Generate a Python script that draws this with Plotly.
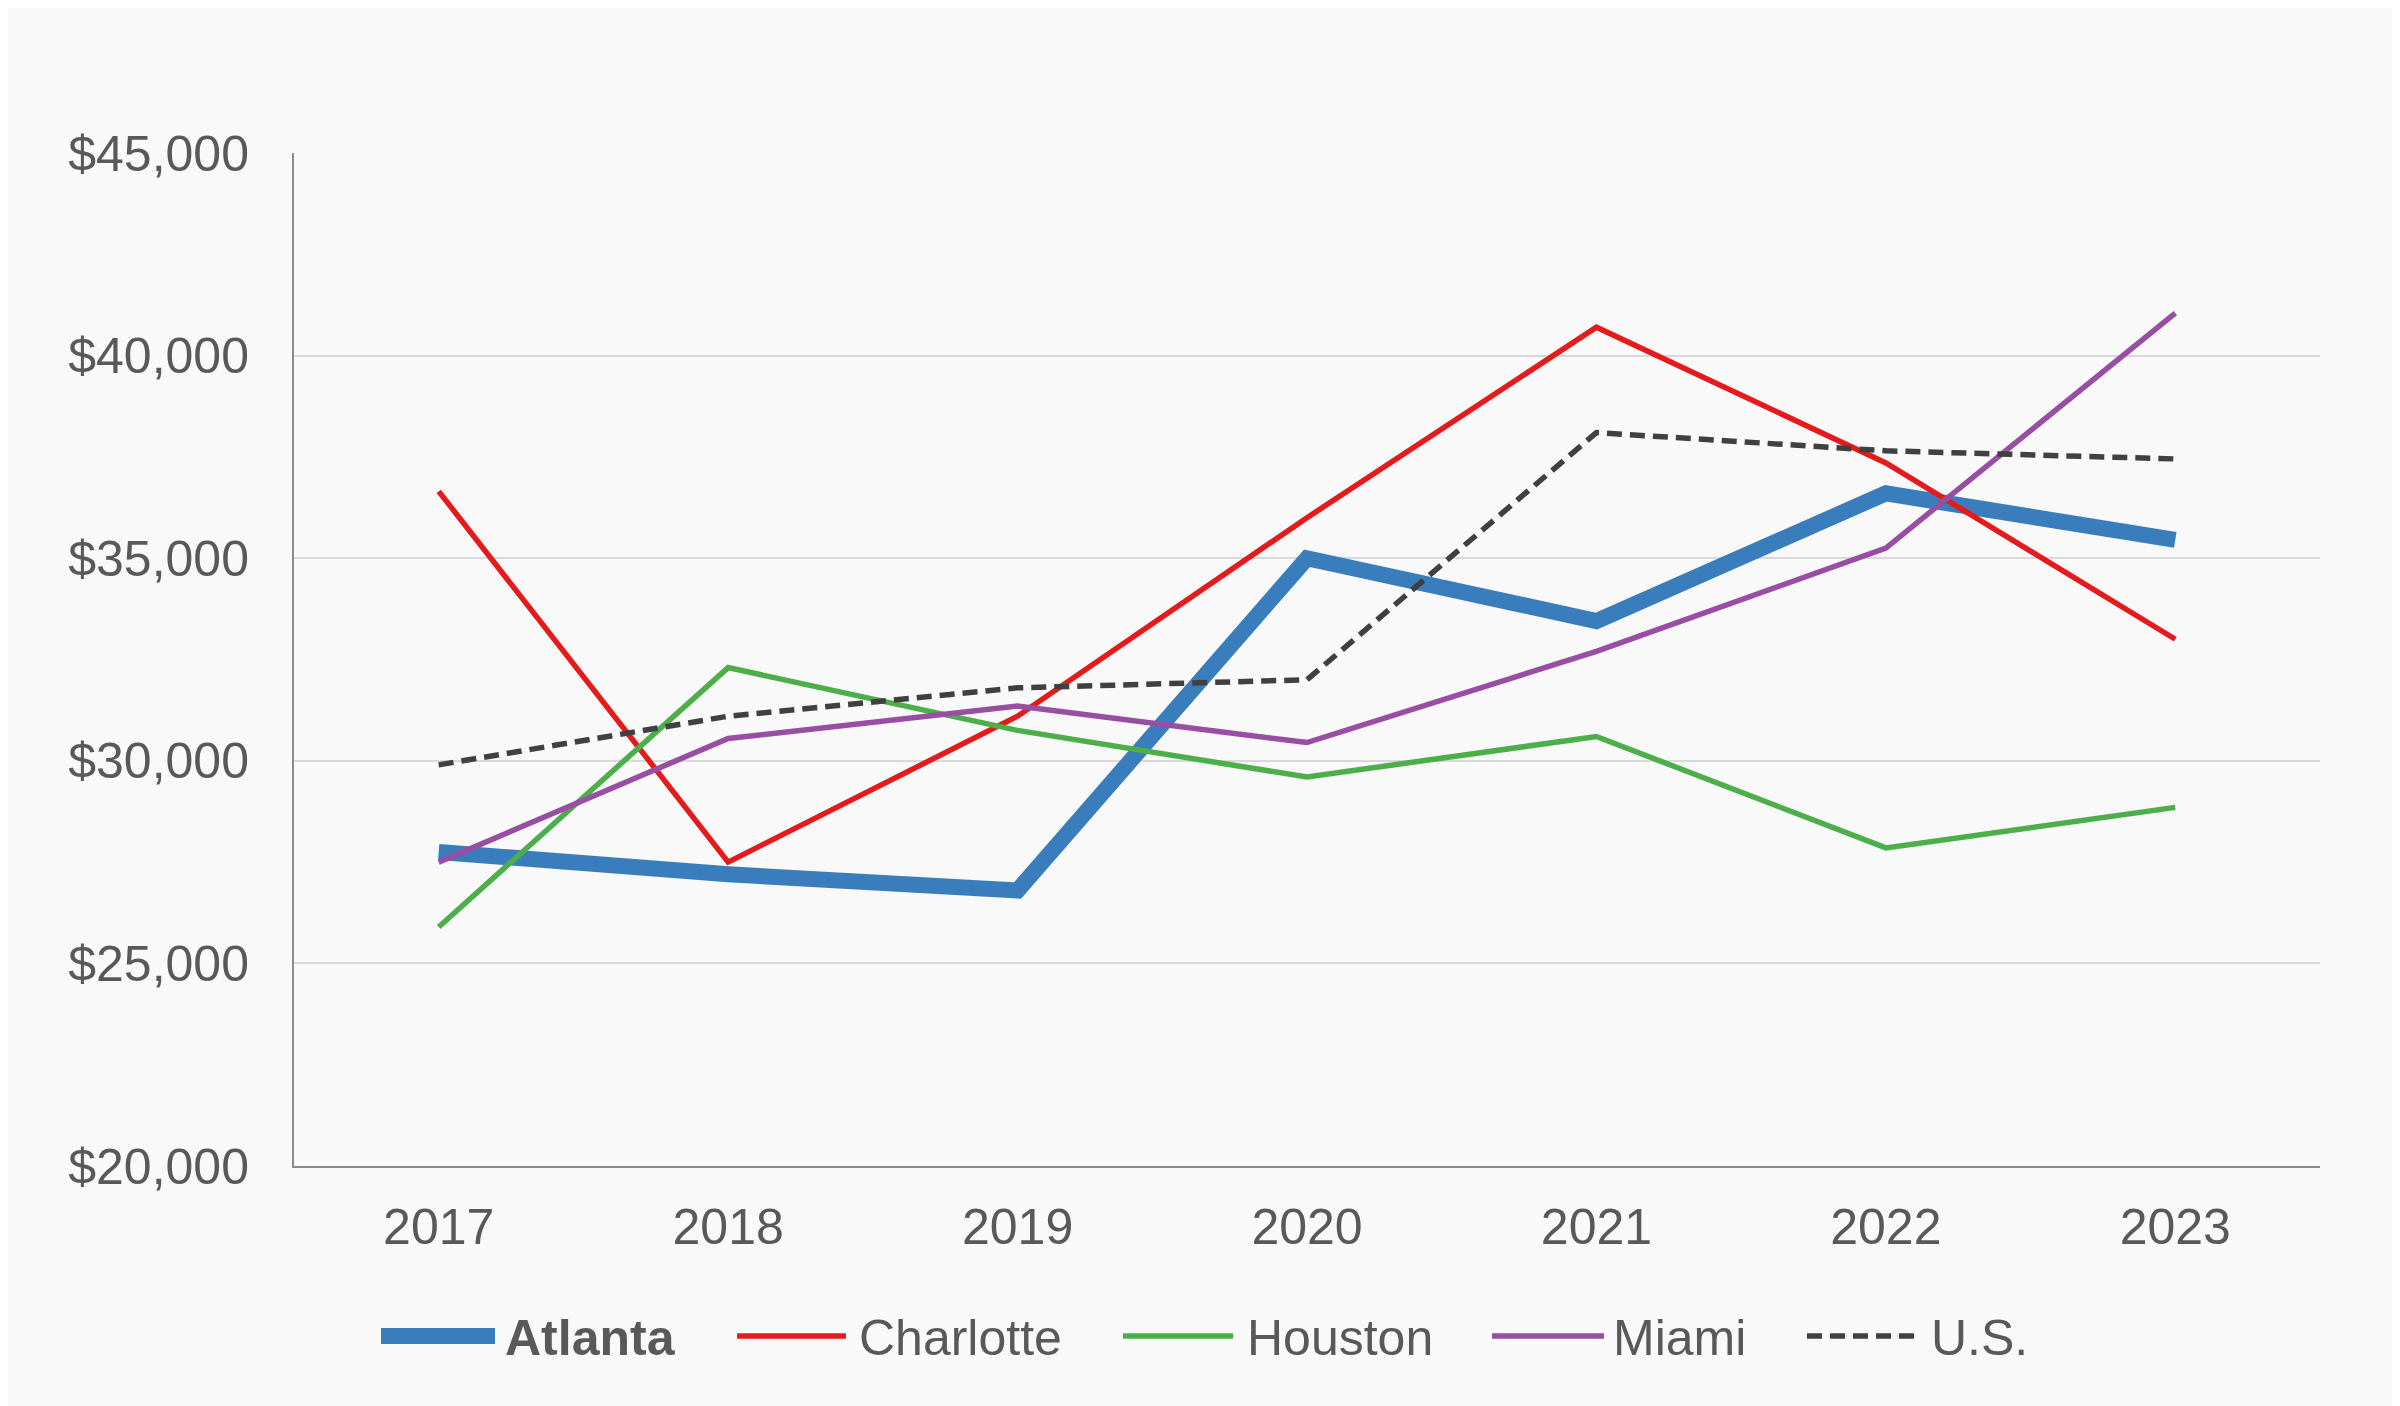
import plotly.graph_objects as go

years = ["2017", "2018", "2019", "2020", "2021", "2022", "2023"]
atlanta = [27750, 27200, 26800, 35000, 33450, 36600, 35450]
charlotte = [36650, 27500, 31100, 36000, 40700, 37350, 33000]
houston = [25900, 32300, 30750, 29600, 30600, 27850, 28850]
miami = [27500, 30550, 31350, 30450, 32700, 35250, 41050]
us = [29900, 31100, 31800, 32000, 38100, 37650, 37450]

y_ticks = [20000, 25000, 30000, 35000, 40000, 45000]
y_tick_labels = ["$20,000", "$25,000", "$30,000", "$35,000", "$40,000", "$45,000"]

series = [
    ("<b>Atlanta</b>", atlanta, "#3a7dbd", 16, "solid"),
    ("Charlotte", charlotte, "#e41a1c", 5.5, "solid"),
    ("Houston", houston, "#4daf4a", 5.5, "solid"),
    ("Miami", miami, "#984ea3", 5.5, "solid"),
    ("U.S.", us, "#404040", 5.5, "15px,8px"),
]

W, H = 2400, 1406
L, R, T, B = 286, 88, 145, 248
OFF = 8  # page body offset in screenshot
PW, PH = W - L - R, H - T - B

def px_x(px):
    return (px - OFF - L) / PW

def px_y(py):
    return (H - B - (py - OFF)) / PH

# legend layout (screenshot pixels)
leg_y = 1336
leg_sym = [(381, 495), (737, 846), (1123, 1233), (1492, 1604), (1807, 1921)]
leg_txt = [504, 858, 1246, 1612, 1930]

fig = go.Figure()
for name, vals, color, width, dash in series:
    fig.add_trace(go.Scatter(x=years, y=vals, name=name, mode="lines",
                             line=dict(color=color, width=width, dash=dash),
                             showlegend=False))

font = "Liberation Sans, Arial, sans-serif"
shapes, annots = [], []
for (name, vals, color, width, dash), (s0, s1), tx in zip(series, leg_sym, leg_txt):
    shapes.append(dict(type="line", xref="paper", yref="paper",
                       x0=px_x(s0), x1=px_x(s1), y0=px_y(leg_y), y1=px_y(leg_y),
                       line=dict(color=color, width=width, dash=dash)))
    annots.append(dict(text=name, xref="paper", yref="paper", x=px_x(tx), y=px_y(leg_y + 2),
                       xanchor="left", yanchor="middle", showarrow=False,
                       font=dict(family=font, size=50, color="#595959"), borderpad=0))

fig.update_layout(
    width=W, height=H,
    paper_bgcolor="#f9f9f9", plot_bgcolor="#f9f9f9",
    margin=dict(l=L, r=R, t=T, b=B),
    font=dict(family=font, size=50, color="#595959"),
    showlegend=False,
    shapes=shapes, annotations=annots,
    xaxis=dict(type="category", range=[-0.5, 6.5], showgrid=False,
               showline=True, linecolor="#8c8c8c", linewidth=2,
               ticks="", tickfont=dict(size=50, color="#595959"), ticklabelstandoff=16),
    yaxis=dict(range=[20000, 45000], tickvals=y_ticks, ticktext=y_tick_labels,
               showgrid=True, gridcolor="#d9d9d9", gridwidth=2,
               showline=True, linecolor="#8c8c8c", linewidth=2, zeroline=False,
               ticks="", tickfont=dict(size=50, color="#595959"), ticklabelstandoff=33),
)

fig.write_html("out.html")
